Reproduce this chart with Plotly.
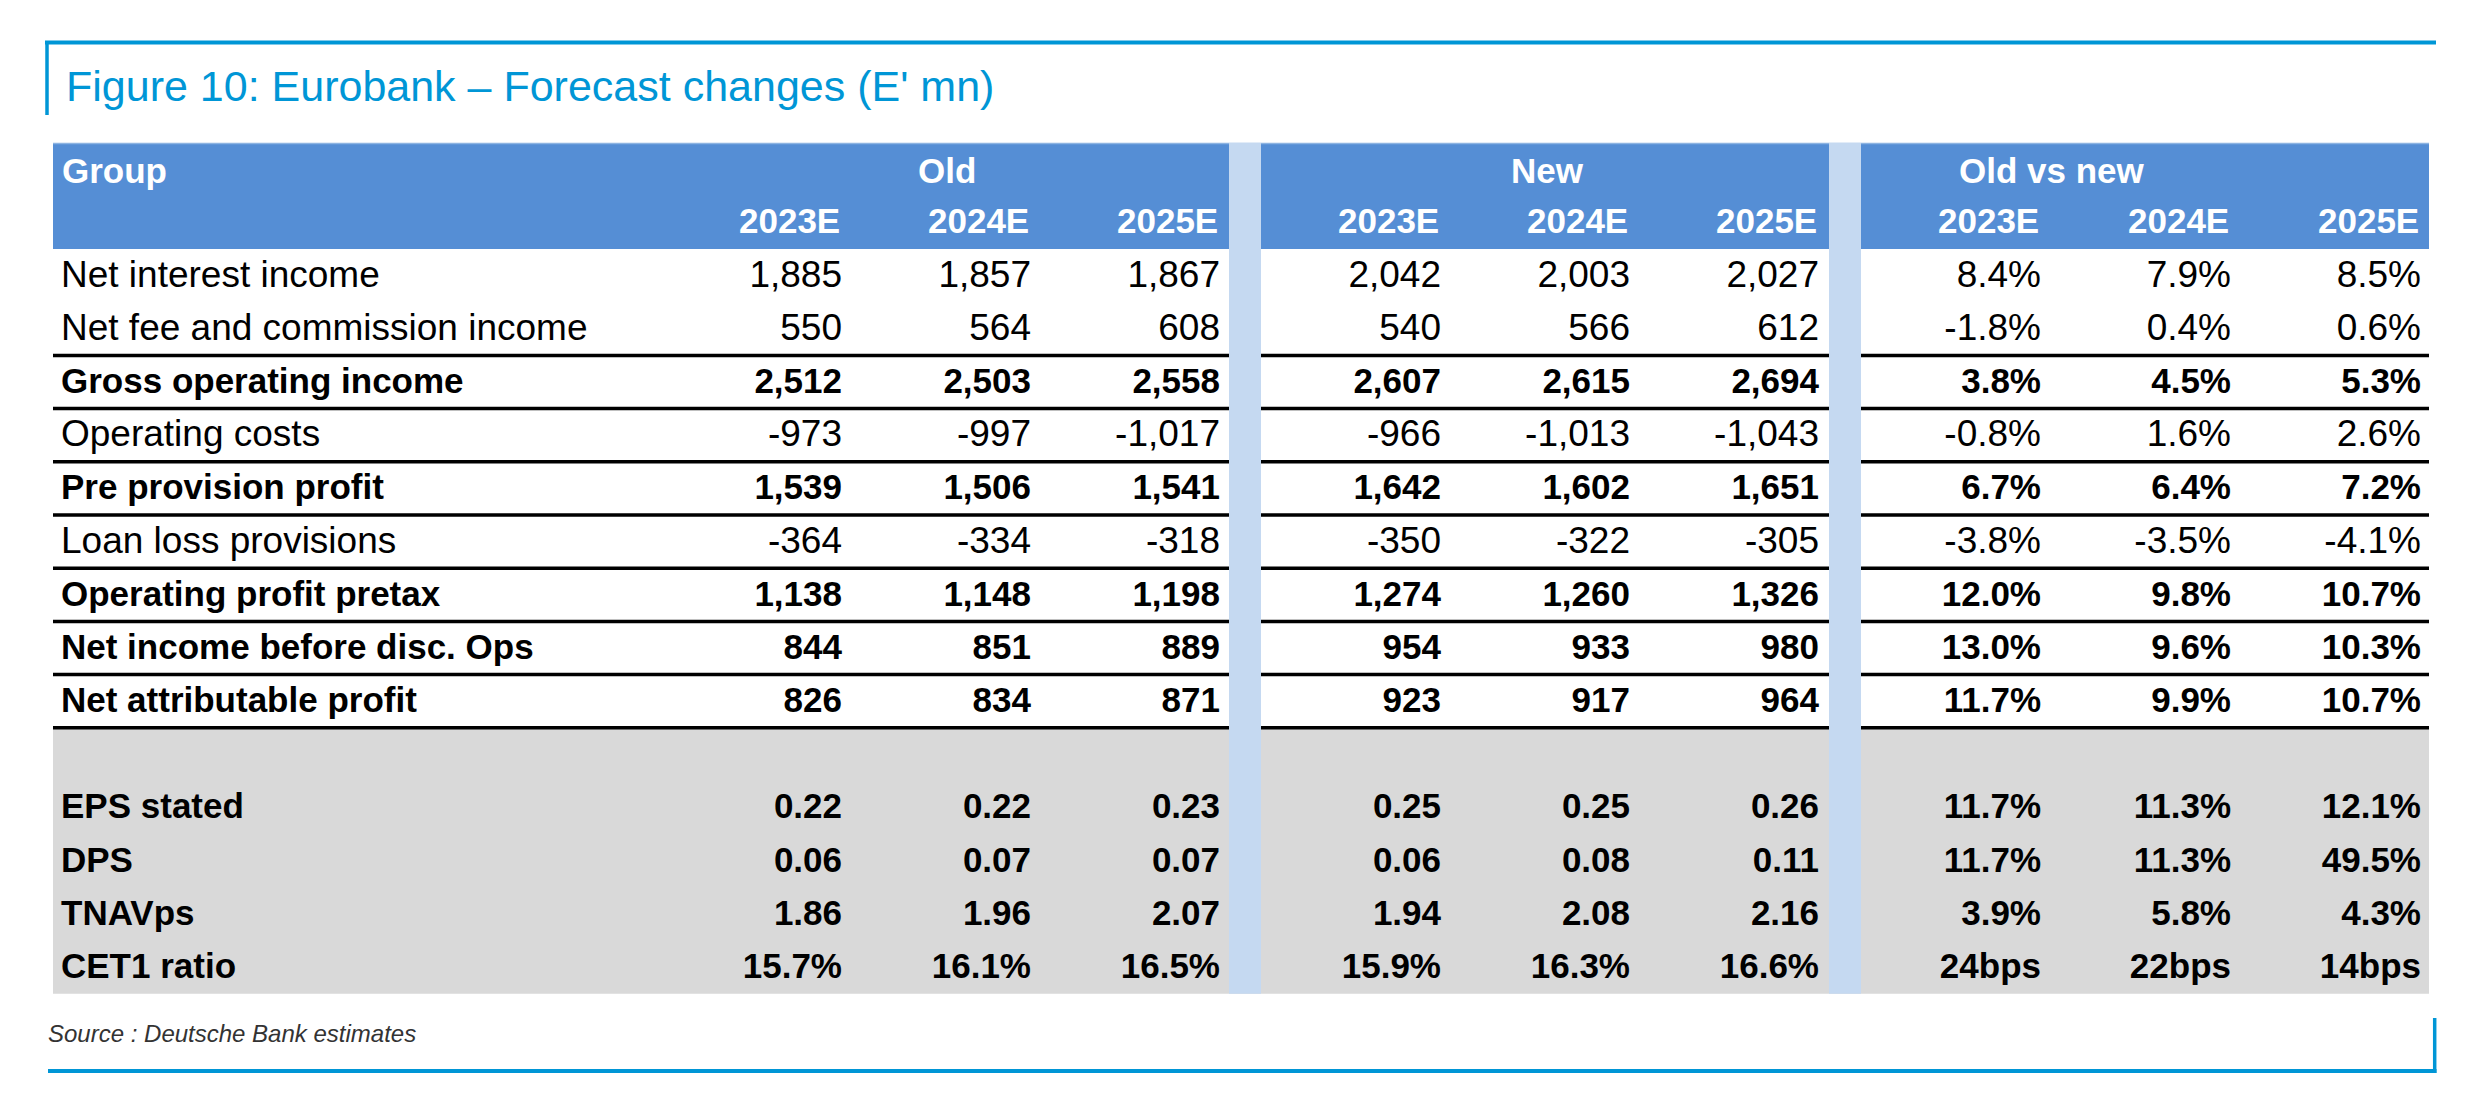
import plotly.graph_objects as go

# ---------------- data ----------------
row_labels = [
    "Net interest income", "Net fee and commission income", "Gross operating income",
    "Operating costs", "Pre provision profit", "Loan loss provisions",
    "Operating profit pretax", "Net income before disc. Ops", "Net attributable profit",
    "EPS stated", "DPS", "TNAVps", "CET1 ratio",
]
bold_rows = [False, False, True, False, True, False, True, True, True, True, True, True, True]
# value formats per row: int = thousands, dec = 2 decimals, pct = 1-decimal percent
row_formats = ["int"] * 9 + ["dec", "dec", "dec", "pct"]

years = ["2023E", "2024E", "2025E"]
groups = ["Old", "New", "Old vs new"]

old_2023 = [1885, 550, 2512, -973, 1539, -364, 1138, 844, 826, 0.22, 0.06, 1.86, 15.7]
old_2024 = [1857, 564, 2503, -997, 1506, -334, 1148, 851, 834, 0.22, 0.07, 1.96, 16.1]
old_2025 = [1867, 608, 2558, -1017, 1541, -318, 1198, 889, 871, 0.23, 0.07, 2.07, 16.5]
new_2023 = [2042, 540, 2607, -966, 1642, -350, 1274, 954, 923, 0.25, 0.06, 1.94, 15.9]
new_2024 = [2003, 566, 2615, -1013, 1602, -322, 1260, 933, 917, 0.25, 0.08, 2.08, 16.3]
new_2025 = [2027, 612, 2694, -1043, 1651, -305, 1326, 980, 964, 0.26, 0.11, 2.16, 16.6]
# old vs new: % change, last row (CET1) in bps
chg_2023 = [8.4, -1.8, 3.8, -0.8, 6.7, -3.8, 12.0, 13.0, 11.7, 11.7, 11.7, 3.9, 24]
chg_2024 = [7.9, 0.4, 4.5, 1.6, 6.4, -3.5, 9.8, 9.6, 9.9, 11.3, 11.3, 5.8, 22]
chg_2025 = [8.5, 0.6, 5.3, 2.6, 7.2, -4.1, 10.7, 10.3, 10.7, 12.1, 49.5, 4.3, 14]

title = "Figure 10: Eurobank – Forecast changes (E' mn)"
source = "Source : Deutsche Bank estimates"

# ---------------- layout / style ----------------
W, H = 2487, 1103
FONT = "Liberation Sans, Arial, sans-serif"
BLUE_FRAME = "#0096D6"
HEADER_BG = "#558ED5"
SEP_BG = "#C5D9F1"
GREY_BG = "#D9D9D9"
SIZE_REG, SIZE_BOLD = 37, 35

tbl_left, tbl_right = 53, 2429
hdr_top, hdr_bot = 143, 249
row_h = 53.2
separators = [(1229, 1261), (1829, 1861)]
col_right = [842, 1031, 1220, 1441, 1630, 1819, 2041, 2231, 2421]
group_center = [947, 1547, 2052]
label_x = 61
grey_start_pos = 9  # blank row position before EPS block
n_pos = 14

def row_pos(i):
    return i if i < 9 else i + 1

def row_center(i):
    return hdr_bot + row_h * (row_pos(i) + 0.5) + 2

def fmt(v, kind, chg=False, last=False):
    if chg:
        if last:
            return f"{v:.0f}bps"
        return f"{v:.1f}%"
    if kind == "int":
        return f"{v:,.0f}"
    if kind == "dec":
        return f"{v:.2f}"
    return f"{v:.1f}%"

def wrap(s, b):
    return f"<b>{s}</b>" if b else s

fig = go.Figure()

columns = [old_2023, old_2024, old_2025, new_2023, new_2024, new_2025, chg_2023, chg_2024, chg_2025]
n = len(row_labels)
ys = [row_center(i) for i in range(n)]
sizes = [SIZE_BOLD if b else SIZE_REG for b in bold_rows]

# labels
fig.add_trace(go.Scatter(
    x=[label_x] * n, y=ys, mode="text",
    text=[wrap(l, b) for l, b in zip(row_labels, bold_rows)],
    textposition="middle right",
    textfont=dict(family=FONT, size=sizes, color="black"),
    hoverinfo="skip", showlegend=False))

for ci, col in enumerate(columns):
    is_chg = ci >= 6
    txt = [wrap(fmt(v, row_formats[i], is_chg, i == n - 1), bold_rows[i]) for i, v in enumerate(col)]
    fig.add_trace(go.Scatter(
        x=[col_right[ci]] * n, y=ys, mode="text", text=txt,
        textposition="middle left",
        textfont=dict(family=FONT, size=sizes, color="black"),
        hoverinfo="skip", showlegend=False))

shapes = []
# header band
shapes.append(dict(type="rect", x0=tbl_left, x1=tbl_right, y0=hdr_top, y1=hdr_bot,
                   fillcolor=HEADER_BG, line=dict(width=0), layer="below"))
shapes.append(dict(type="line", x0=tbl_left, x1=tbl_right, y0=hdr_top + 0.5, y1=hdr_top + 0.5,
                   line=dict(color="#8DB4E2", width=1.5), layer="below"))
# grey block
grey_top = hdr_bot + row_h * grey_start_pos
grey_bot = hdr_bot + row_h * n_pos
shapes.append(dict(type="rect", x0=tbl_left, x1=tbl_right, y0=grey_top, y1=grey_bot,
                   fillcolor=GREY_BG, line=dict(width=0), layer="below"))
# separator strips
for a, b in separators:
    shapes.append(dict(type="rect", x0=a, x1=b, y0=hdr_top, y1=grey_bot,
                       fillcolor=SEP_BG, line=dict(width=0), layer="below"))
# thick rules below rows 1..8
segs = [(tbl_left, separators[0][0]), (separators[0][1], separators[1][0]), (separators[1][1], tbl_right)]
for i in range(1, 9):
    yb = hdr_bot + row_h * (row_pos(i) + 1)
    for a, b in segs:
        shapes.append(dict(type="line", x0=a, x1=b, y0=yb, y1=yb,
                           line=dict(color="black", width=3.5)))
# frame
shapes.append(dict(type="line", x0=45, x1=2436, y0=42.5, y1=42.5, line=dict(color=BLUE_FRAME, width=4)))
shapes.append(dict(type="line", x0=47, x1=47, y0=41, y1=115, line=dict(color=BLUE_FRAME, width=3.5)))
shapes.append(dict(type="line", x0=48, x1=2436.5, y0=1071, y1=1071, line=dict(color=BLUE_FRAME, width=4)))
shapes.append(dict(type="line", x0=2434.7, x1=2434.7, y0=1018, y1=1073, line=dict(color=BLUE_FRAME, width=3.5)))

annotations = []
annotations.append(dict(x=64, y=86, text=title, showarrow=False, xanchor="left", yanchor="middle",
                        font=dict(family=FONT, size=43, color=BLUE_FRAME)))
annotations.append(dict(x=46, y=1033, text=f"<i>{source}</i>", showarrow=False, xanchor="left",
                        yanchor="middle", font=dict(family=FONT, size=24, color="#333333")))
hdr_r1 = 170
hdr_r2 = 220
annotations.append(dict(x=60, y=hdr_r1, text="<b>Group</b>", showarrow=False, xanchor="left",
                        yanchor="middle", font=dict(family=FONT, size=35, color="white")))
for g, cx in zip(groups, group_center):
    annotations.append(dict(x=cx, y=hdr_r1, text=f"<b>{g}</b>", showarrow=False, xanchor="center",
                            yanchor="middle", font=dict(family=FONT, size=35, color="white")))
for ci, xr in enumerate(col_right):
    annotations.append(dict(x=xr, y=hdr_r2, text=f"<b>{years[ci % 3]}</b>", showarrow=False,
                            xanchor="right", yanchor="middle",
                            font=dict(family=FONT, size=35, color="white")))

fig.update_layout(
    width=W, height=H, margin=dict(l=0, r=0, t=0, b=0),
    paper_bgcolor="white", plot_bgcolor="white",
    xaxis=dict(range=[0, W], visible=False, fixedrange=True),
    yaxis=dict(range=[H, 0], visible=False, fixedrange=True),
    shapes=shapes, annotations=annotations, showlegend=False,
)

fig.write_html("out.html", config={"displayModeBar": False},
               post_script="document.body.style.margin='0';document.body.style.overflow='hidden';")
